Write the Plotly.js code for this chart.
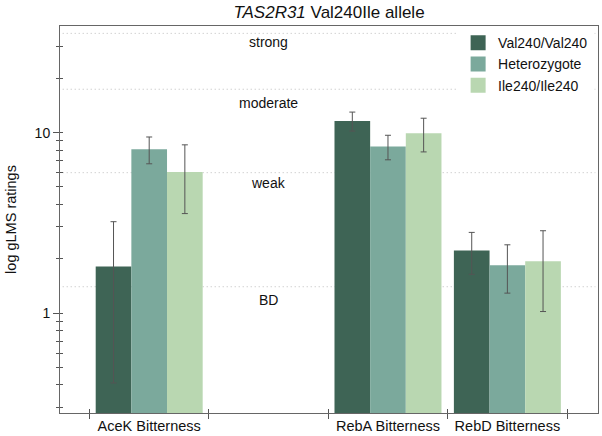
<!DOCTYPE html>
<html><head><meta charset="utf-8">
<script src="https://cdn.plot.ly/plotly-3.0.1.min.js"></script>
<style>body{margin:0;background:#fff}</style>
</head><body><div id="chart" style="width:602px;height:436px"></div>
<script>
const categories = ["AceK Bitterness", " ", "RebA Bitterness", "RebD Bitterness"];
const barCategories = ["AceK Bitterness", "RebA Bitterness", "RebD Bitterness"];
const genotypes = ["Val240/Val240", "Heterozygote", "Ile240/Ile240"];
const valVal = [1.81, 11.6, 2.22];
const valValErr = [1.4, 1.4, 0.58];
const hetero = [8.09, 8.37, 1.84];
const heteroErr = [1.37, 1.3, 0.55];
const ileIle = [6.06, 9.92, 1.94];
const ileIleErr = [2.5, 2.1, 0.92];
const scaleLabels = ["strong", "moderate", "weak", "BD"];
const scaleLevels = [35.5, 17.4, 6, 1.4];
const yTickVals = [1, 10];
const yMinorVals = [0.3, 0.4, 0.5, 0.6, 0.7, 0.8, 0.9, 2, 3, 4, 5, 6, 7, 8, 9, 20, 30];

const colors = ["#3e6455", "#7ba99c", "#b9d7b1"];
const FONT = "Liberation Sans, Arial, Helvetica, sans-serif";
const series = [valVal, hetero, ileIle];
const errs = [valValErr, heteroErr, ileIleErr];

const traces = [];
series.forEach((vals, i) => {
  traces.push({
    type: "bar", x: barCategories, y: vals, name: genotypes[i], showlegend: false,
    marker: {color: colors[i], line: {width: 0}},
    error_y: {type: "data", array: errs[i], visible: true, color: "#555", thickness: 1, width: 3}
  });
});
genotypes.forEach((g, i) => {
  traces.push({
    type: "scatter", mode: "markers", x: [null], y: [null], name: g,
    marker: {symbol: "square", size: 15, color: colors[i]}, hoverinfo: "skip"
  });
});
traces.push({type: "scatter", mode: "markers", x: [null], y: [null], xaxis: "x2", yaxis: "y2", showlegend: false, hoverinfo: "skip"});

const yRange = [-0.5537, 1.591];
const xRange = [-0.747, 3.759];

const shapes = scaleLevels.map(v => ({
  type: "line", xref: "paper", x0: 0.005, x1: 0.995, yref: "y", y0: v, y1: v,
  layer: "below", line: {color: "#bdbdbd", width: 1, dash: "1px,3px"}
}));
const yShifts = [-9, -14, -10, -13];
const annotations = scaleLabels.map((t, i) => ({
  text: t, x: 1, xref: "x", y: Math.log10(scaleLevels[i]), yref: "y", yshift: yShifts[i],
  showarrow: false, font: {family: FONT, size: 14, color: "#111"}
}));

const layout = {
  width: 602, height: 436,
  margin: {l: 60, r: 4, t: 26, b: 23},
  paper_bgcolor: "#fff", plot_bgcolor: "#fff",
  font: {family: FONT, size: 14, color: "#111"},
  title: {text: "<i>TAS2R31</i> Val240Ile allele", font: {family: FONT, size: 17, color: "#111"},
          x: 0.5465, xanchor: "center", y: 0.973, yref: "container", yanchor: "middle"},
  barmode: "group", bargap: 0.104, bargroupgap: 0,
  showlegend: true,
  legend: {x: 0.74, xanchor: "left", y: 0.997, yanchor: "top", bgcolor: "#fff",
           font: {family: FONT, size: 14, color: "#111"}, tracegroupgap: 0},
  xaxis: {type: "category", categoryorder: "array", categoryarray: categories, range: xRange,
          tickson: "boundaries", ticks: "outside", ticklen: 5, tickcolor: "#555", tickwidth: 1,
          showline: true, linecolor: "#666", linewidth: 1, mirror: true, showgrid: false, zeroline: false,
          tickfont: {family: FONT, size: 14.5, color: "#111"}, fixedrange: true},
  yaxis: {type: "log", range: yRange, tickvals: yTickVals, ticktext: ["1", "10"],
          ticks: "outside", ticklen: 6, tickcolor: "#555", tickwidth: 1,
          minor: {tickvals: yMinorVals, ticks: "outside", ticklen: 3, tickcolor: "#555", tickwidth: 1, showgrid: false},
          showline: true, linecolor: "#666", linewidth: 1, mirror: true, showgrid: false, zeroline: false,
          tickfont: {family: FONT, size: 14, color: "#111"},
          title: {text: "log gLMS ratings", font: {family: FONT, size: 14.5, color: "#111"}, standoff: 14}},
  xaxis2: {type: "category", categoryorder: "array", categoryarray: categories, range: xRange,
           overlaying: "x", anchor: "y", tickson: "boundaries", ticks: "inside", ticklen: 4,
           tickcolor: "#555", tickwidth: 1, showticklabels: false, showgrid: false, showline: false, zeroline: false},
  yaxis2: {type: "log", range: yRange, overlaying: "y", anchor: "x", side: "left", tickvals: yTickVals,
           ticks: "inside", ticklen: 3, tickcolor: "#555", tickwidth: 1,
           minor: {tickvals: yMinorVals, ticks: "inside", ticklen: 3, tickcolor: "#555", tickwidth: 1, showgrid: false},
           showticklabels: false, showgrid: false, showline: false, zeroline: false},
  shapes: shapes,
  annotations: annotations
};
Plotly.newPlot("chart", traces, layout, {displayModeBar: false, staticPlot: true});
</script></body></html>
